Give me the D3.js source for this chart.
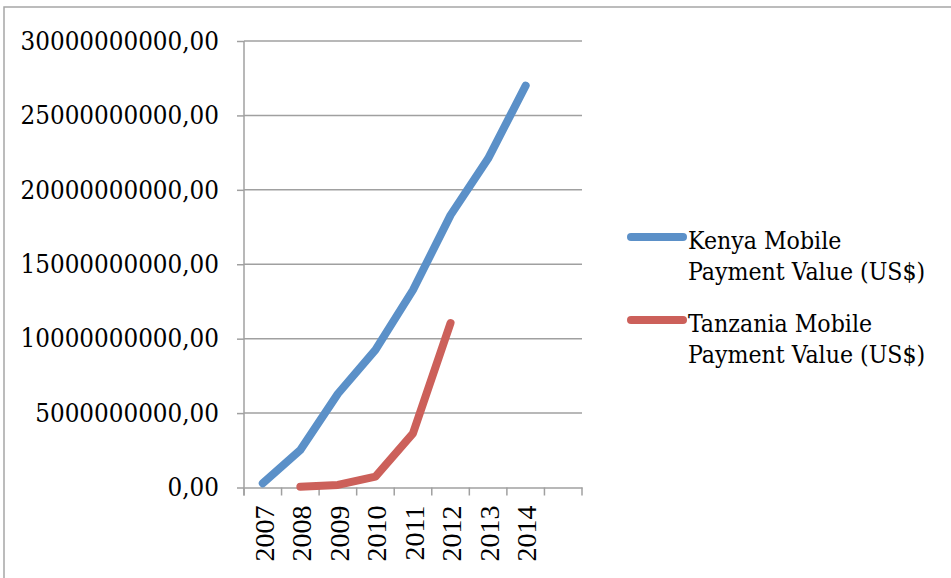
<!DOCTYPE html>
<html>
<head>
<meta charset="utf-8">
<script src="https://cdn.jsdelivr.net/npm/d3@7"></script>
<style>
  html, body { margin: 0; padding: 0; background: #fff; }
  svg { display: block; }
</style>
</head>
<body>
<svg id="chart" width="951" height="578"></svg>
<script>
// Mobile payment values (US$) by year
const years = ["2007", "2008", "2009", "2010", "2011", "2012", "2013", "2014", ""];
const kenyaValues = [0.28e9, 2.52e9, 6.3e9, 9.24e9, 13.27e9, 18.3e9, 22.1e9, 27.0e9, null];
const tanzaniaValues = [null, 0.05e9, 0.17e9, 0.73e9, 3.64e9, 11.05e9, null, null, null];
const yTicks = [0, 5e9, 10e9, 15e9, 20e9, 25e9, 30e9];
const seriesNames = ["Kenya Mobile Payment Value (US$)", "Tanzania Mobile Payment Value (US$)"];
const seriesColors = ["#5b90c8", "#cc605a"];

const svg = d3.select("#chart");
const plot = { left: 244, right: 582, top: 41, bottom: 487.5 };

// chart frame
svg.append("rect")
  .attr("x", 4).attr("y", 7).attr("width", 1000).attr("height", 1000)
  .attr("fill", "none").attr("stroke", "#a6a6a6").attr("stroke-width", 1.5);

const x = d3.scaleBand().domain(years.map((d, i) => i)).range([plot.left, plot.right]);
const y = d3.scaleLinear().domain([0, 30e9]).range([plot.bottom, plot.top]);

const gridColor = "#a0a0a0";

// horizontal gridlines
svg.append("g").selectAll("line").data(yTicks.filter(d => d > 0)).join("line")
  .attr("x1", plot.left).attr("x2", plot.right)
  .attr("y1", d => y(d)).attr("y2", d => y(d))
  .attr("stroke", gridColor).attr("stroke-width", 1.5);

// y axis
const yAxis = svg.append("g")
  .attr("transform", `translate(${plot.left},0)`)
  .call(d3.axisLeft(y).tickValues(yTicks).tickSize(7).tickPadding(18)
    .tickFormat(d => d3.format(".2f")(d).replace(".", ",")));
yAxis.select(".domain").attr("stroke", gridColor).attr("stroke-width", 1.5)
  .attr("d", `M0,${plot.top}V${plot.bottom + 8}`);
yAxis.selectAll(".tick line").attr("stroke", gridColor).attr("stroke-width", 1.5);
yAxis.selectAll(".tick text")
  .attr("fill", "#000")
  .style("font-family", "'DejaVu Serif Condensed', 'DejaVu Serif', serif")
  .style("font-stretch", "condensed")
  .style("font-size", "25.7px");

// x axis
const xAxis = svg.append("g")
  .attr("transform", `translate(0,${plot.bottom})`)
  .call(d3.axisBottom(x).tickSize(0).tickFormat(i => years[i]));
xAxis.select(".domain").attr("stroke", gridColor).attr("stroke-width", 1.5);
xAxis.selectAll(".tick text")
  .attr("fill", "#000")
  .attr("transform", "rotate(-90)")
  .attr("text-anchor", "end")
  .attr("x", -18).attr("y", 1).attr("dy", "0.35em")
  .style("font-family", "'Liberation Serif', 'Times New Roman', serif")
  .style("font-size", "28px");
// category boundary ticks
svg.append("g").selectAll("line")
  .data(d3.range(years.length + 1)).join("line")
  .attr("x1", i => plot.left + i * x.step()).attr("x2", i => plot.left + i * x.step())
  .attr("y1", plot.bottom).attr("y2", plot.bottom + 8)
  .attr("stroke", gridColor).attr("stroke-width", 1.5);

// series lines
const line = d3.line()
  .defined(d => d.v != null)
  .x(d => x(d.i) + x.bandwidth() / 2)
  .y(d => y(d.v));

[kenyaValues, tanzaniaValues].forEach((vals, k) => {
  svg.append("path")
    .datum(vals.map((v, i) => ({ i, v })))
    .attr("d", line)
    .attr("fill", "none")
    .attr("stroke", seriesColors[k])
    .attr("stroke-width", 8)
    .attr("stroke-linecap", "round")
    .attr("stroke-linejoin", "round");
});

// legend
const legendFont = "'DejaVu Serif Condensed', 'DejaVu Serif', serif";
const legend = svg.append("g");
const legendRows = [
  { y: 237, lines: ["Kenya Mobile", "Payment Value (US$)"] },
  { y: 320, lines: ["Tanzania Mobile", "Payment Value (US$)"] }
];
legendRows.forEach((row, k) => {
  legend.append("line")
    .attr("x1", 631).attr("x2", 683)
    .attr("y1", row.y).attr("y2", row.y)
    .attr("stroke", seriesColors[k]).attr("stroke-width", 8)
    .attr("stroke-linecap", "round");
  const t = legend.append("text")
    .attr("x", 688).attr("y", row.y + 12)
    .attr("fill", "#000")
    .style("font-family", legendFont)
    .style("font-stretch", "condensed")
    .style("font-size", "24.6px");
  row.lines.forEach((s, j) => {
    t.append("tspan").attr("x", 688).attr("dy", j === 0 ? 0 : 31).text(s);
  });
});
</script>
</body>
</html>
